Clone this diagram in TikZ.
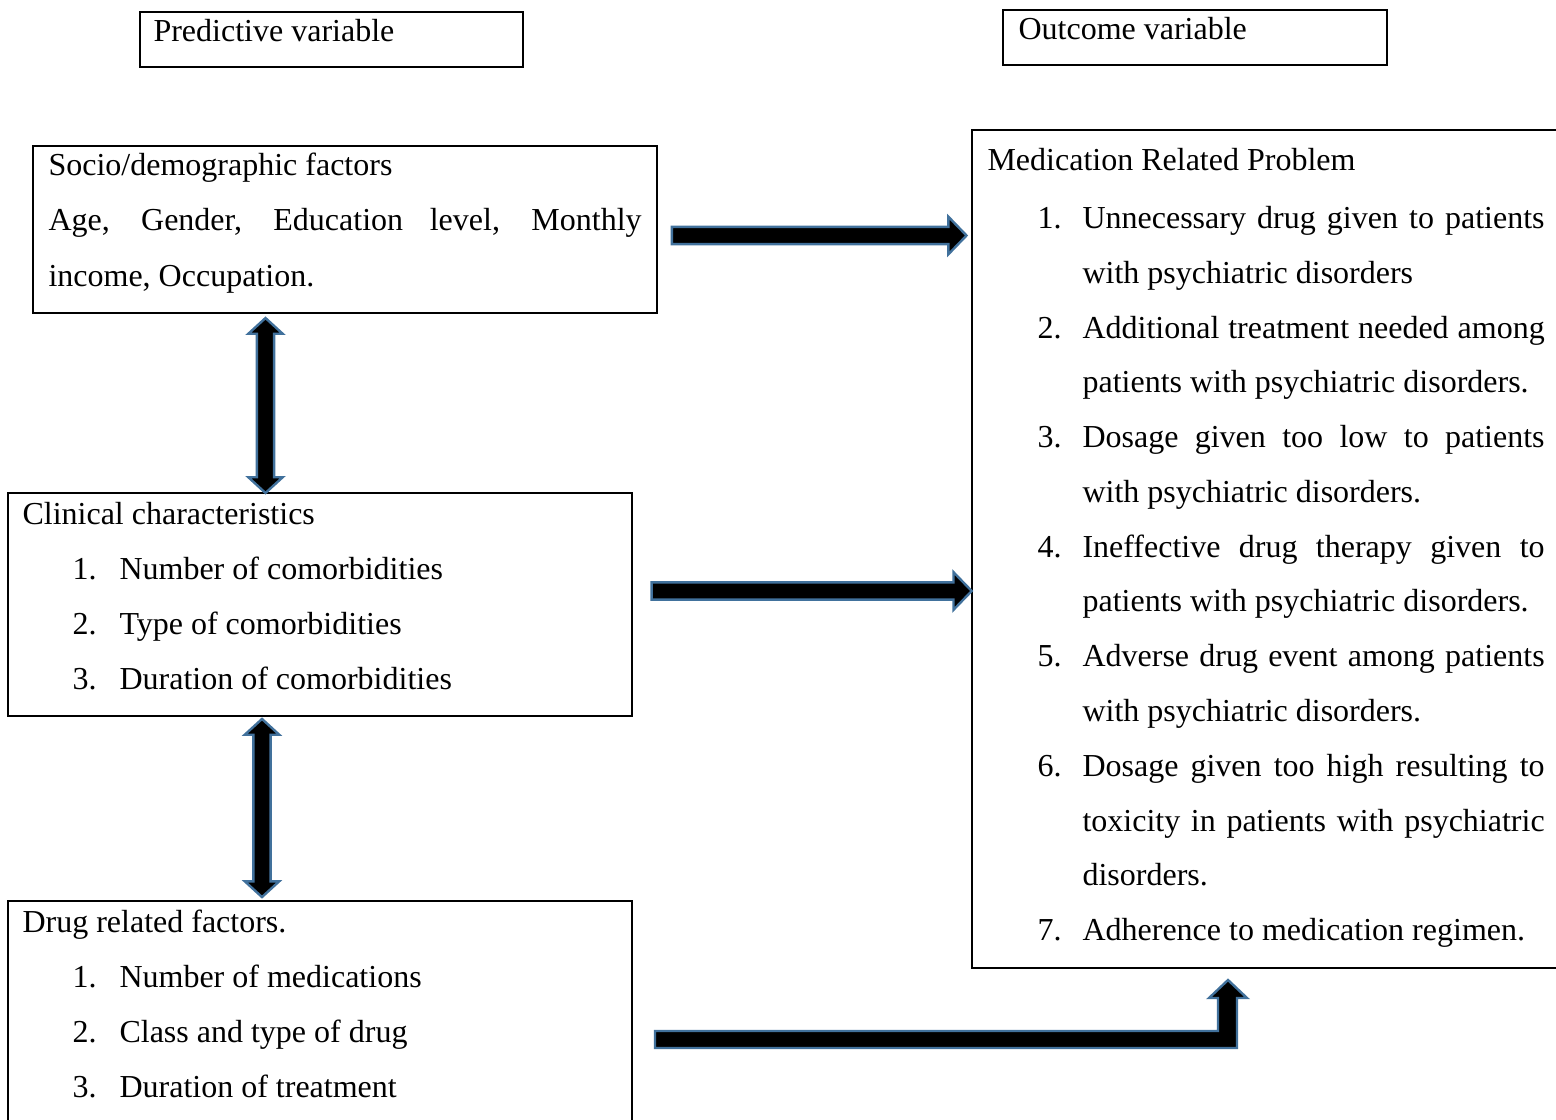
\documentclass[tikz,border=0pt]{standalone}
\usepackage{fontspec}
\setmainfont{Liberation Serif}
\usetikzlibrary{shapes.arrows}
\definecolor{arrowblue}{RGB}{65,113,156}
\tikzset{
  box/.style={draw, line width=0.9pt},
  txt/.style={anchor=base west, inner sep=0, font=\fontsize{12}{14}\selectfont},
  blk/.style={fill=black, draw=arrowblue, line width=0.9pt, inner xsep=0, inner ysep=2.8pt},
}
\newcommand{\jline}[2]{\makebox[#1][s]{#2}}
\begin{document}
\begin{tikzpicture}[x=0.375pt, y=-0.375pt]
  \useasboundingbox (0,0) rectangle (1556,1120);
  \clip (0,0) rectangle (1556,1120);
  % headers
  \draw[box] (140,12) rectangle (523,67);
  \node[txt] (pred) at (153,42) {Predictive variable};
  \draw[box] (1003,10) rectangle (1387,65);
  \node[txt] (outc) at (1018,40) {Outcome variable};

  % socio/demographic
  \draw[box] (33,146) rectangle (657,313);
  \node[txt] (soc1) at (48,176) {Socio/demographic factors};
  \node[txt] (soc2) at (48,231) {\jline{222.4pt}{Age, Gender, Education level, Monthly}};
  \node[txt] (soc3) at (48,286) {income, Occupation.};

  % clinical
  \draw[box] (8,493) rectangle (632,716);
  \node[txt] (clin) at (22,524) {Clinical characteristics};
  \foreach \i/\t in {1/Number of comorbidities, 2/Type of comorbidities, 3/Duration of comorbidities}
  {
      \node[txt] (cn\i) at (72,{524+55*\i}) {\i.};
      \node[txt] (ct\i) at (119,{524+55*\i}) {\t};
  }

  % drug related
  \draw[box] (8,901) rectangle (632,1140);
  \node[txt] (drug) at (22,932) {Drug related factors.};
  \foreach \i/\t in {1/Number of medications, 2/Class and type of drug, 3/Duration of treatment}
  {
      \node[txt] (dn\i) at (72,{932+55*\i}) {\i.};
      \node[txt] (dt\i) at (119,{932+55*\i}) {\t};
  }

  % outcome list
  \draw[box] (972,130) rectangle (1580,968);
  \node[txt] (mrp) at (987,170) {Medication Related Problem};
  \foreach \i/\y in {1/228, 2/338, 3/447, 4/557, 5/666, 6/776, 7/940}
      \node[txt] (on\i) at (1037,\y) {\i.};
  \node[txt] (o1a) at (1082,228) {\jline{173.3pt}{Unnecessary drug given to patients}};
  \node[txt] (o1b) at (1082,283) {with psychiatric disorders};
  \node[txt] (o2a) at (1082,338) {\jline{173.3pt}{Additional treatment needed among}};
  \node[txt] (o2b) at (1082,392) {patients with psychiatric disorders.};
  \node[txt] (o3a) at (1082,447) {\jline{173.3pt}{Dosage given too low to patients}};
  \node[txt] (o3b) at (1082,502) {with psychiatric disorders.};
  \node[txt] (o4a) at (1082,557) {\jline{173.3pt}{Ineffective drug therapy given to}};
  \node[txt] (o4b) at (1082,611) {patients with psychiatric disorders.};
  \node[txt] (o5a) at (1082,666) {\jline{173.3pt}{Adverse drug event among patients}};
  \node[txt] (o5b) at (1082,721) {with psychiatric disorders.};
  \node[txt] (o6a) at (1082,776) {\jline{173.3pt}{Dosage given too high resulting to}};
  \node[txt] (o6b) at (1082,831) {\jline{173.3pt}{toxicity in patients with psychiatric}};
  \node[txt] (o6c) at (1082,885) {disorders.};
  \node[txt] (o7a) at (1082,940) {Adherence to medication regimen.};

  % block arrows
  \node[blk, single arrow, minimum height=110.5pt, single arrow head extend=3.8pt,
        single arrow tip angle=92] (arr1) at (815,235.5) {};
  \node[blk, single arrow, minimum height=120pt, single arrow head extend=3.8pt,
        single arrow tip angle=92] (arr2) at (807.5,591) {};
  \node[blk, double arrow, rotate=90, minimum height=65.6pt, double arrow head extend=3.2pt,
        double arrow tip angle=95] (vert1) at (265.5,405.5) {};
  \node[blk, double arrow, rotate=90, minimum height=66.8pt, double arrow head extend=3.2pt,
        double arrow tip angle=95] (vert2) at (262,808) {};
  \draw[blk] (655,1031) -- (1218,1031) -- (1218,998) -- (1209,998) -- (1228,980)
        -- (1247,998) -- (1237,998) -- (1237,1048) -- (655,1048) -- cycle;
\end{tikzpicture}
\end{document}
